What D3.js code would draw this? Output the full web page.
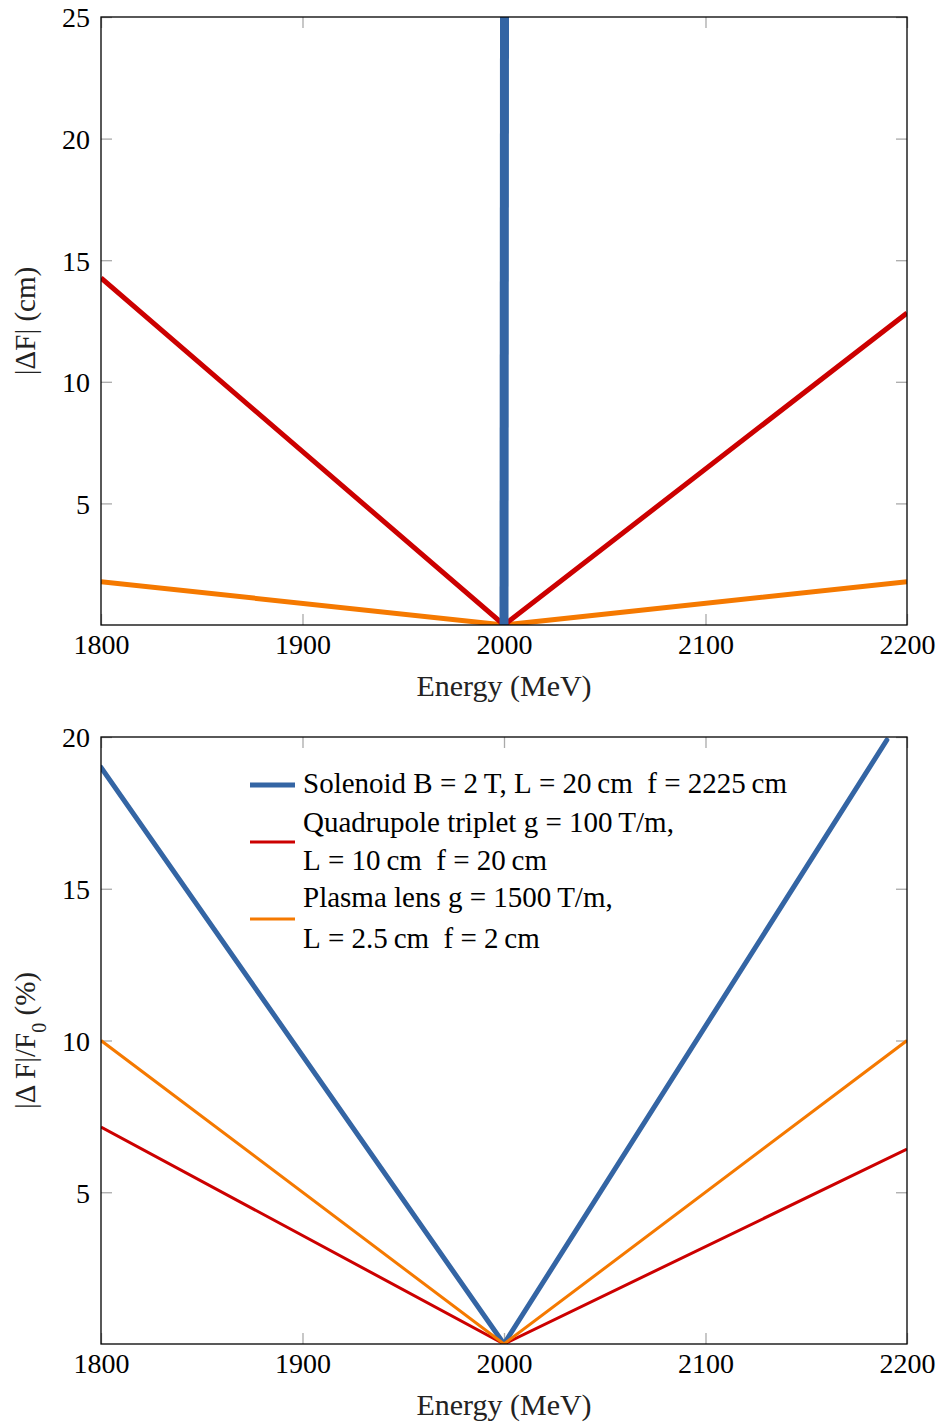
<!DOCTYPE html>
<html>
<head>
<meta charset="utf-8">
<script src="https://cdn.jsdelivr.net/npm/d3@7"></script>
<style>
  body { margin: 0; background: #fff; }
  text { font-family: "Liberation Serif", serif; fill: #000; }
  .tick line { stroke: #aaa; stroke-width: 1.3; }
  .domain { display: none; }
</style>
</head>
<body>
<svg id="chart" width="941" height="1425"></svg>
<script>

// ---- data ----
var xTicks = [1800, 1900, 2000, 2100, 2200];
var topYTicks = [5, 10, 15, 20, 25];
var botYTicks = [5, 10, 15, 20];

// top panel : |dF| (cm)
var topSolenoidX = [2000, 2000.3];
var topSolenoidY = [0, 30];
var topQuadX = [1800, 2000, 2200];
var topQuadY = [14.27, 0, 12.83];
var topPlasmaX = [1800, 2000, 2200];
var topPlasmaY = [1.78, 0, 1.78];

// bottom panel : |dF|/F0 (%)
var botSolenoidX = [1800, 2000, 2190];
var botSolenoidY = [19.0, 0, 19.9];
var botQuadX = [1800, 2000, 2200];
var botQuadY = [7.15, 0, 6.42];
var botPlasmaX = [1800, 2000, 2200];
var botPlasmaY = [10, 0, 10];

var legendLines = [
  ["Solenoid B\u2005=\u20052\u2009T, L\u2005=\u200520\u2009cm\u2002f\u2005=\u20052225\u2009cm"],
  ["Quadrupole triplet g\u2005=\u2005100\u2009T/m,", "L\u2005=\u200510\u2009cm\u2002f\u2005=\u200520\u2009cm"],
  ["Plasma lens g\u2005=\u20051500\u2009T/m,", "L\u2005=\u20052.5\u2009cm\u2002f\u2005=\u20052\u2009cm"]
];

var colors = {blue: "#3465a4", red: "#cc0000", orange: "#f57900"};

/************************************************************************************************************/

var svg = d3.select("#chart");
var left = 101, right = 907;

function zip(xs, ys){
  return xs.map(function(x, i){ return [x, ys[i]]; });
}

function styleLabels(a){
  a.attr("font-family", "Liberation Serif").attr("font-size", 28);
  a.selectAll("text")
    .style("font-family", "'Liberation Serif', serif")
    .style("font-size", "28px").style("fill", "#000");
}

function drawPanel(id, top, bottom, yMax, yTicks, series, yLabel){

  var x = d3.scaleLinear().domain([1800, 2200]).range([left, right]);
  var y = d3.scaleLinear().domain([0, yMax]).range([bottom, top]);

  var g = svg.append("g");

  g.append("clipPath").attr("id", "clip" + id)
    .append("rect").attr("x", left).attr("y", top)
    .attr("width", right - left).attr("height", bottom - top);

  // inward grey ticks on the four sides
  g.append("g").attr("transform", "translate(0," + bottom + ")")
    .call(d3.axisBottom(x).tickValues(xTicks).tickSize(-11).tickPadding(9).tickFormat(d3.format("d")))
    .call(styleLabels)
    .call(function(a){ a.selectAll("text").attr("dy", "0.72em"); });
  g.append("g").attr("transform", "translate(0," + top + ")")
    .call(d3.axisTop(x).tickValues(xTicks).tickSize(-11).tickFormat(""));
  g.append("g").attr("transform", "translate(" + left + ",0)")
    .call(d3.axisLeft(y).tickValues(yTicks).tickSize(-11).tickPadding(11))
    .call(styleLabels)
    .call(function(a){ a.selectAll("text").attr("dy", "0.35em"); });
  g.append("g").attr("transform", "translate(" + right + ",0)")
    .call(d3.axisRight(y).tickValues(yTicks).tickSize(-11).tickFormat(""));

  var line = d3.line().x(function(d){ return x(d[0]); }).y(function(d){ return y(d[1]); });

  var lines = g.append("g").attr("clip-path", "url(#clip" + id + ")");
  series.forEach(function(s){
    lines.append("path")
      .attr("d", line(s.data))
      .attr("fill", "none")
      .attr("stroke", s.color)
      .attr("stroke-width", s.width)
      .attr("stroke-linejoin", "round")
      .attr("stroke-linecap", s.cap || "butt");
  });

  // frame
  g.append("rect").attr("x", left).attr("y", top)
    .attr("width", right - left).attr("height", bottom - top)
    .attr("fill", "none").attr("stroke", "#000").attr("stroke-width", 1.3);

  g.append("text")
    .attr("x", (left + right) / 2).attr("y", bottom + 71)
    .attr("text-anchor", "middle").style("font-size", "30px").style("fill", "#222")
    .text("Energy (MeV)");

  var yl = g.append("text")
    .attr("transform", "translate(35," + (top + bottom) / 2 + ") rotate(-90)")
    .attr("text-anchor", "middle").style("font-size", "29px").style("fill", "#222");
  yLabel(yl);

  return {x: x, y: y, g: g};
}

drawPanel("Top", 17, 625, 25, topYTicks, [
  {data: zip(topPlasmaX, topPlasmaY), color: colors.orange, width: 5},
  {data: zip(topQuadX, topQuadY), color: colors.red, width: 5},
  {data: zip(topSolenoidX, topSolenoidY), color: colors.blue, width: 9}
], function(t){
  t.text("|\u0394F| (cm)");
});

var bot = drawPanel("Bot", 737, 1344, 20, botYTicks, [
  {data: zip(botSolenoidX, botSolenoidY), color: colors.blue, width: 5, cap: "round"},
  {data: zip(botQuadX, botQuadY), color: colors.red, width: 3},
  {data: zip(botPlasmaX, botPlasmaY), color: colors.orange, width: 3}
], function(t){
  t.append("tspan").text("|\u0394 F|/F");
  t.append("tspan").attr("baseline-shift", "sub").style("font-size", "20px").text("0");
  t.append("tspan").text(" (%)");
});

// legend, inside the bottom panel
var legendColors = [colors.blue, colors.red, colors.orange];
var legendWidths = [5, 3, 3];
var legendSwatchY = [785, 842, 919];
var legendBaselines = [[793], [832, 870], [907, 948]];

var legend = bot.g.append("g");
legendLines.forEach(function(rows, i){
  legend.append("line")
    .attr("x1", 250).attr("x2", 295)
    .attr("y1", legendSwatchY[i]).attr("y2", legendSwatchY[i])
    .attr("stroke", legendColors[i]).attr("stroke-width", legendWidths[i]);
  rows.forEach(function(r, j){
    legend.append("text")
      .attr("x", 303).attr("y", legendBaselines[i][j])
      .style("font-size", "29px")
      .text(r);
  });
});

</script>
</body>
</html>
